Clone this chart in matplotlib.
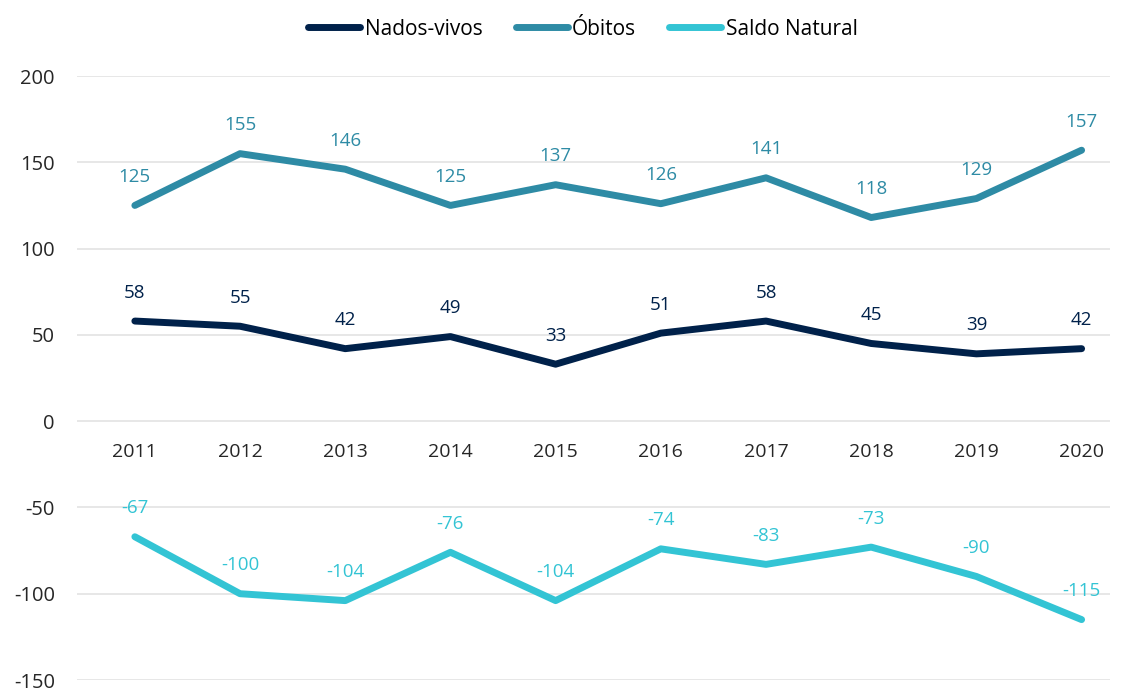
import matplotlib.pyplot as plt
import numpy as np

anos = ['2011', '2012', '2013', '2014', '2015', '2016', '2017', '2018', '2019', '2020']
nados_vivos = [58, 55, 42, 49, 33, 51, 58, 45, 39, 42]
obitos = [125, 155, 146, 125, 137, 126, 141, 118, 129, 157]
saldo = [-67, -100, -104, -76, -104, -74, -83, -73, -90, -115]

cores = ['#00214A', '#2E8BA5', '#33C4D4']
series = [('Nados-vivos', nados_vivos), ('Óbitos', obitos), ('Saldo Natural', saldo)]

plt.rcParams['font.family'] = ['Open Sans', 'DejaVu Sans']
plt.rcParams['axes.unicode_minus'] = False

fig = plt.figure(figsize=(11.21, 6.91), dpi=100)
ax = fig.add_axes([77 / 1121, 1 - 680 / 691, (1110 - 77) / 1121, (680 - 76) / 691])

x = np.arange(len(anos))
for (nome, vals), cor in zip(series, cores):
    ax.plot(x, vals, color=cor, lw=5, solid_capstyle='round', solid_joinstyle='round', label=nome)
    for xi, v in zip(x, vals):
        ax.annotate(str(v), (xi, v), xytext=(0, 14), textcoords='offset points',
                    ha='center', va='bottom', color=cor, fontsize=13.5)

# year labels next to the zero line
for xi, a in zip(x, anos):
    ax.annotate(a, (xi, 0), xytext=(0, -16), textcoords='offset points',
                ha='center', va='top', color='#262626', fontsize=14)

ax.set_ylim(-150, 200)
ax.set_yticks(range(-150, 201, 50))
ax.set_xlim(-0.55, 9.27)
ax.set_xticks([])
ax.grid(axis='y', color='#E3E3E3', lw=1.2)
ax.set_axisbelow(True)
ax.tick_params(axis='y', length=0, labelsize=14.5, labelcolor='#262626', pad=16)
for s in ax.spines.values():
    s.set_visible(False)

fig.legend(loc='upper center', bbox_to_anchor=(0.52, 1.0), ncol=3, frameon=False,
           fontsize=15, handlelength=2.5, handletextpad=0.2, columnspacing=1.6)

fig.savefig('out.png', dpi=100)
